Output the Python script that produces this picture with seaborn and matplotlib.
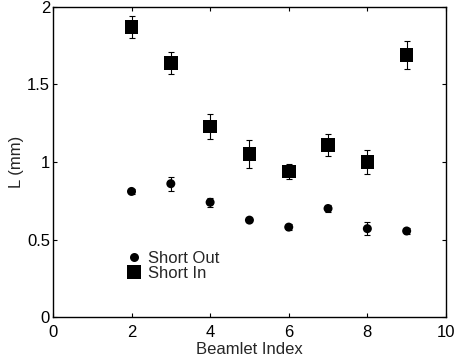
import numpy as np
import pandas as pd
import matplotlib
matplotlib.use("Agg")
import matplotlib.pyplot as plt
import seaborn as sns

beamlet = [2, 3, 4, 5, 6, 7, 8, 9]
short_out = [0.81, 0.86, 0.74, 0.625, 0.58, 0.70, 0.57, 0.555]
short_out_err = [0.015, 0.045, 0.03, 0.015, 0.02, 0.025, 0.04, 0.02]
short_in = [1.87, 1.64, 1.23, 1.05, 0.94, 1.11, 1.00, 1.69]
short_in_err = [0.07, 0.07, 0.08, 0.09, 0.05, 0.07, 0.08, 0.09]

df = pd.DataFrame({
    "Beamlet Index": beamlet * 2,
    "L (mm)": short_out + short_in,
    "err": short_out_err + short_in_err,
    "series": ["Short Out"] * len(beamlet) + ["Short In"] * len(beamlet),
})

sns.set_theme(style="ticks")
plt.rcParams["font.family"] = ["Liberation Sans", "DejaVu Sans"]

fig = plt.figure(figsize=(4.56, 3.64), dpi=100)
ax = fig.add_axes([0.116, 0.129, 0.862, 0.852])

for name, sub in df.groupby("series", sort=False):
    ax.errorbar(sub["Beamlet Index"], sub["L (mm)"], yerr=sub["err"],
                fmt="none", ecolor="black", elinewidth=0.8, capsize=2.5,
                capthick=0.8, zorder=2)

sns.scatterplot(data=df, x="Beamlet Index", y="L (mm)", style="series",
                size="series", sizes={"Short Out": 42, "Short In": 95},
                markers={"Short Out": "o", "Short In": "s"},
                color="black", edgecolor="black", linewidth=0,
                ax=ax, zorder=3)

ax.set_xlim(0, 10)
ax.set_ylim(0, 2)
ax.set_xticks([0, 2, 4, 6, 8, 10])
ax.set_yticks([0, 0.5, 1, 1.5, 2])
ax.set_yticklabels(["0", "0.5", "1", "1.5", "2"])
ax.tick_params(direction="in", top=True, right=True, labelsize=12,
               length=3, width=0.8, colors="black")
ax.tick_params(axis="x", pad=6)
ax.tick_params(axis="y", pad=2)
for s in ax.spines.values():
    s.set_linewidth(1.0)
    s.set_color("black")
ax.set_xlabel("Beamlet Index", fontsize=12, labelpad=1.5)
ax.set_ylabel("L (mm)", fontsize=12, labelpad=2)

handles, labels = ax.get_legend_handles_labels()
ax.legend(handles, labels, loc="lower left", bbox_to_anchor=(0.155, 0.095),
          frameon=False, fontsize=12, handletextpad=0.05, labelspacing=0.0,
          borderaxespad=0, handlelength=1.6)

fig.savefig("out.png", dpi=100)
